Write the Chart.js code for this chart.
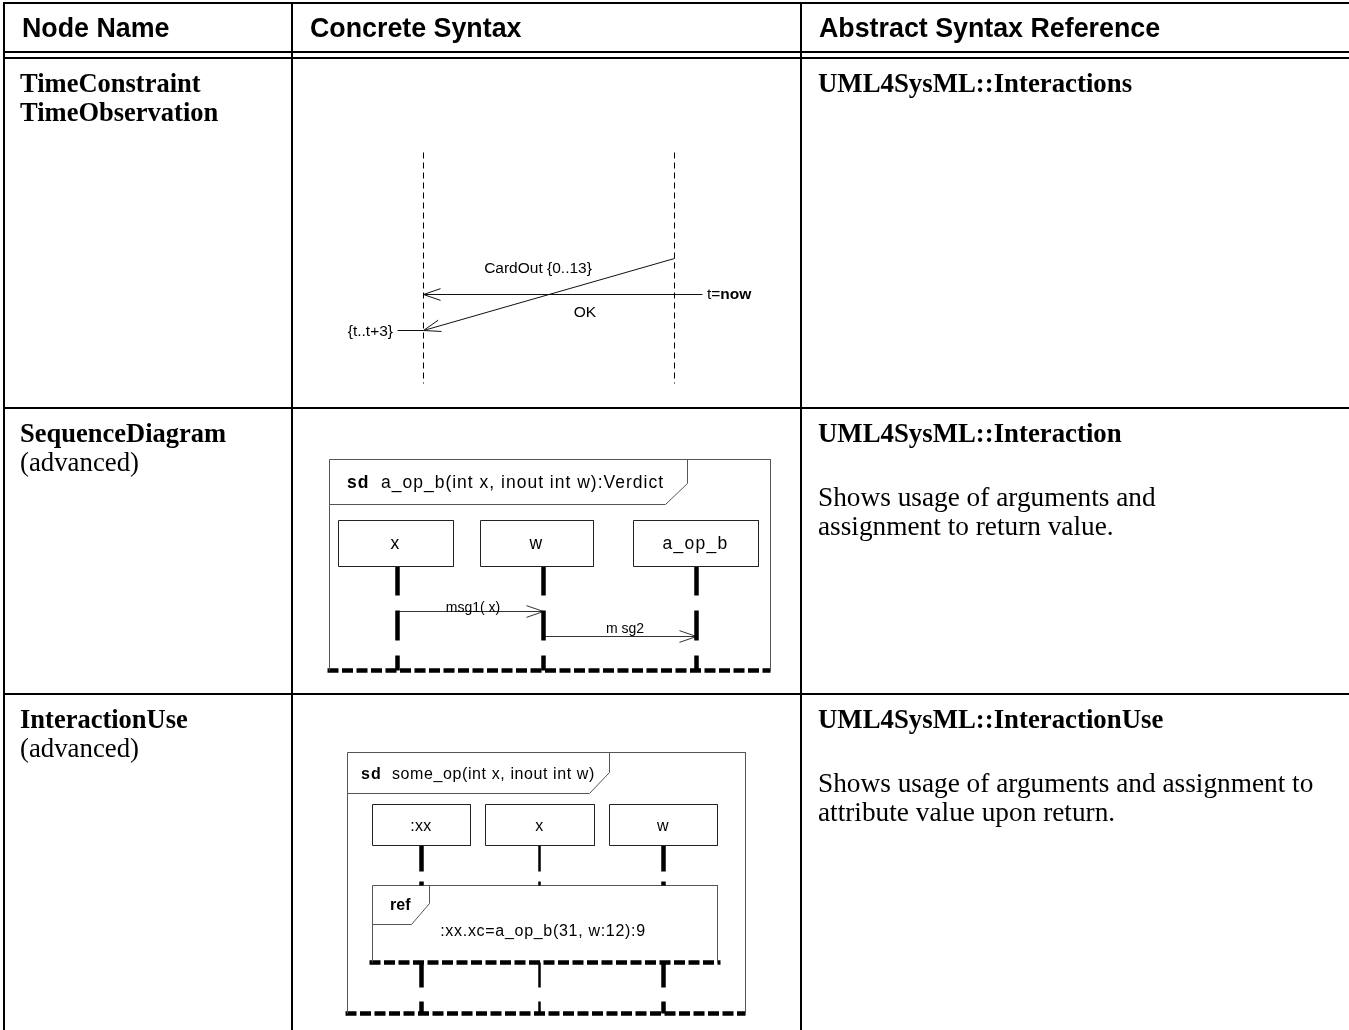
<!DOCTYPE html>
<html><head><meta charset="utf-8">
<script src="https://cdn.jsdelivr.net/npm/chart.js@4.4.1/dist/chart.umd.min.js"></script>
<style>html,body{margin:0;padding:0;background:#fff;overflow:hidden}canvas{display:block}</style>
</head><body>
<canvas id="c" width="1349" height="1030"></canvas>
<script>
// ===== Table content =====
const headerLabels = ['Node Name', 'Concrete Syntax', 'Abstract Syntax Reference'];
const nodeNames = [['TimeConstraint', 'TimeObservation'], ['SequenceDiagram'], ['InteractionUse']];
const nodeNotes = [[], ['(advanced)'], ['(advanced)']];
const syntaxRefs = ['UML4SysML::Interactions', 'UML4SysML::Interaction', 'UML4SysML::InteractionUse'];
const refNotes = [[], ['Shows usage of arguments and', 'assignment to return value.'],
                  ['Shows usage of arguments and assignment to', 'attribute value upon return.']];

// table grid (page units)
const columnEdges = [4, 292, 801];
const headerRules = [3, 52, 58];
const rowTops = [58, 408, 694];

// ===== Diagram 1: TimeConstraint / TimeObservation =====
const tcLifelineX = [423, 674];
const tcLifelineRange = [152, 383];
const tcMessages = [ { from: [702, 294], to: [423, 294] }, { from: [674, 258], to: [423, 330] } ];
const tcConstraintTick = [[397, 330], [423, 330]];
const tcLabels = [
  { text: 'CardOut {0..13}', at: [538, 273], align: 'center' },
  { text: 'OK', at: [585, 317], align: 'center' },
  { text: '{t..t+3}', at: [393, 336], align: 'right' }
];
const tcObservation = { plain: 't=', bold: 'now', at: [707, 299] };

// ===== Diagram 2: SequenceDiagram =====
const seqTitle = { bold: 'sd', text: 'a_op_b(int x, inout int w):Verdict', boldAt: [347, 488], textAt: [381, 488] };
const seqFrame = { left: 329, top: 459, right: 770, bottom: 670, tabRight: 687, tabKnee: 483, tabBottom: 504, tabFoot: 665 };
const seqLifelineNames = ['x', 'w', 'a_op_b'];
const seqLifelineX = [397, 543, 696];
const seqBoxes = [[338, 453], [480, 593], [633, 758]];
const seqBoxRange = [520, 566];
const seqLifelineSegments = [[566, 595], [610, 640], [655, 670]];
const seqMessages = [
  { label: 'msg1( x)', from: 397, to: 543, y: 611, labelAt: [473, 612] },
  { label: 'm sg2', from: 543, to: 696, y: 636, labelAt: [625, 633] }
];

// ===== Diagram 3: InteractionUse =====
const useTitle = { bold: 'sd', text: 'some_op(int x, inout int w)', boldAt: [361, 779], textAt: [392, 779] };
const useFrame = { left: 347, top: 752, right: 745, bottom: 1013, tabRight: 609, tabKnee: 772, tabBottom: 793, tabFoot: 589 };
const useLifelineNames = [':xx', 'x', 'w'];
const useLifelineX = [421, 539, 663];
const useLifelineWidths = [4.5, 2.5, 4.5];
const useBoxes = [[372, 470], [485, 594], [609, 717]];
const useBoxRange = [804, 845];
const useLifelineSegments = [[845, 871], [881, 885], [962, 987], [1001, 1013]];
const useRef = { left: 372, right: 717, top: 885, bottom: 962, tabRight: 429, tabKnee: 903, tabBottom: 924, tabFoot: 411 };
const useRefLabel = { bold: 'ref', at: [390, 910] };
const useRefText = { text: ':xx.xc=a_op_b(31, w:12):9', at: [543, 936] };

// ===== styles =====
const SANS = '"Liberation Sans", Arial, sans-serif';
const SERIF = '"Liberation Serif", "Times New Roman", serif';
const datasets = [];
function line(points, width, color, dash) {
  const off = (Math.round(width) % 2 === 1) ? 0.5 : 0;
  datasets.push({
    data: points.map(p => ({ x: p[0] + off, y: p[1] + off })),
    showLine: true, borderColor: color, borderWidth: width, borderDash: dash || [],
    pointRadius: 0, pointHoverRadius: 0, fill: false, tension: 0, clip: false,
    borderCapStyle: 'butt', borderJoinStyle: 'miter'
  });
}
function arrowHead(from, to, color) {
  const dx = from[0] - to[0], dy = from[1] - to[1];
  const L = Math.hypot(dx, dy), ux = dx / L, uy = dy / L;
  const len = 18, ang = 19 * Math.PI / 180;
  const r = a => [to[0] + len * (ux * Math.cos(a) - uy * Math.sin(a)), to[1] + len * (ux * Math.sin(a) + uy * Math.cos(a))];
  line([r(ang), to, r(-ang)], 1, color);
}
const texts = [];
function text(t, at, font, align, spacing) { texts.push({ t, x: at[0], y: at[1], font, align: align || 'left', spacing: spacing || '0px' }); }

// ---- table grid ----
const W = 1349, H = 1030;
headerRules.forEach(y => line([[columnEdges[0] - 1, y], [W, y]], 2, '#000'));
rowTops.slice(1).forEach(y => line([[columnEdges[0] - 1, y], [W, y]], 2, '#000'));
columnEdges.forEach(x => line([[x, headerRules[0] - 1], [x, H]], 2, '#000'));

// ---- table text ----
const headerFont = 'bold 26.8px ' + SANS;
headerLabels.forEach((h, i) => text(h, [columnEdges[i] + 18, 37], headerFont));
rowTops.forEach((top, r) => {
  let y = top + 34;
  nodeNames[r].forEach(n => { text(n, [20, y], 'bold 26.5px ' + SERIF); y += 29; });
  nodeNotes[r].forEach(n => { text(n, [20, y], '26.8px ' + SERIF); y += 29; });
  text(syntaxRefs[r], [columnEdges[2] + 17, top + 34], 'bold 26.8px ' + SERIF);
  refNotes[r].forEach((n, k) => text(n, [columnEdges[2] + 17, top + 98 + k * 29], '27.3px ' + SERIF));
});

// ---- diagram 1 ----
tcLifelineX.forEach(x => line([[x, tcLifelineRange[0]], [x, tcLifelineRange[1]]], 1, '#000', [6, 4]));
tcMessages.forEach(m => { line([m.from, m.to], 1, '#111'); arrowHead(m.from, m.to, '#111'); });
line(tcConstraintTick, 1, '#111');
tcLabels.forEach(l => text(l.text, l.at, '15.5px ' + SANS, l.align));

// ---- frames ----
function frame(f, titleFontSize, title, spacing) {
  line([[f.left, f.bottom], [f.left, f.top], [f.right, f.top], [f.right, f.bottom]], 1, '#555');
  line([[f.left, f.tabBottom], [f.tabFoot, f.tabBottom], [f.tabRight, f.tabKnee], [f.tabRight, f.top]], 1, '#555');
  line([[f.left - 2, f.bottom], [f.right, f.bottom]], 4.5, '#000', [11, 3.5]);
  text(title.bold, title.boldAt, 'bold ' + titleFontSize + 'px ' + SANS, 'left', '1px');
  text(title.text, title.textAt, titleFontSize + 'px ' + SANS, 'left', spacing);
}

// ---- diagram 2 ----
frame(seqFrame, 17.5, seqTitle, '1px');
seqBoxes.forEach((b, i) => {
  line([[b[0], seqBoxRange[0]], [b[1], seqBoxRange[0]], [b[1], seqBoxRange[1]], [b[0], seqBoxRange[1]], [b[0], seqBoxRange[0]]], 1, '#222');
  text(seqLifelineNames[i], [(b[0] + b[1]) / 2, (seqBoxRange[0] + seqBoxRange[1]) / 2 + 6], '17.5px ' + SANS, 'center', '1.3px');
});
seqLifelineX.forEach(x => seqLifelineSegments.forEach(s => line([[x, s[0]], [x, s[1]]], 4.5, '#000')));
seqMessages.forEach(m => {
  line([[m.from, m.y], [m.to, m.y]], 1, '#333');
  arrowHead([m.from, m.y], [m.to, m.y], '#333');
  text(m.label, m.labelAt, '14px ' + SANS, 'center');
});

// ---- diagram 3 ----
frame(useFrame, 16, useTitle, '0.6px');
useBoxes.forEach((b, i) => {
  line([[b[0], useBoxRange[0]], [b[1], useBoxRange[0]], [b[1], useBoxRange[1]], [b[0], useBoxRange[1]], [b[0], useBoxRange[0]]], 1, '#222');
  text(useLifelineNames[i], [(b[0] + b[1]) / 2, (useBoxRange[0] + useBoxRange[1]) / 2 + 6], '16px ' + SANS, 'center', '0.3px');
});
useLifelineX.forEach((x, i) => useLifelineSegments.forEach(s => line([[x, s[0]], [x, s[1]]], useLifelineWidths[i], '#000')));
line([[useRef.left, useRef.bottom], [useRef.left, useRef.top], [useRef.right, useRef.top], [useRef.right, useRef.bottom]], 1, '#555');
line([[useRef.left, useRef.tabBottom], [useRef.tabFoot, useRef.tabBottom], [useRef.tabRight, useRef.tabKnee], [useRef.tabRight, useRef.top]], 1, '#555');
line([[useRef.left - 3, useRef.bottom], [useRef.right + 3, useRef.bottom]], 4.5, '#000', [11, 3.5]);
text(useRefLabel.bold, useRefLabel.at, 'bold 16px ' + SANS, 'left', '0px');
text(useRefText.text, useRefText.at, '16px ' + SANS, 'center', '0.7px');

// ---- plugins ----
const whiteBg = { id: 'whiteBg', beforeDraw(c) { const g = c.ctx; g.save(); g.fillStyle = '#fff'; g.fillRect(0, 0, c.width, c.height); g.restore(); } };
const textPlugin = {
  id: 'texts',
  afterDatasetsDraw(chart) {
    const g = chart.ctx, sx = chart.scales.x, sy = chart.scales.y;
    g.save();
    g.fillStyle = '#000'; g.textBaseline = 'alphabetic';
    texts.forEach(t => {
      g.font = t.font; g.textAlign = t.align;
      if ('letterSpacing' in g) g.letterSpacing = t.spacing;
      g.fillText(t.t, sx.getPixelForValue(t.x), sy.getPixelForValue(t.y));
    });
    // observation label: plain + bold
    if ('letterSpacing' in g) g.letterSpacing = '0px';
    g.textAlign = 'left';
    g.font = '15.5px ' + SANS;
    const ox = sx.getPixelForValue(tcObservation.at[0]), oy = sy.getPixelForValue(tcObservation.at[1]);
    g.fillText(tcObservation.plain, ox, oy);
    const w = g.measureText(tcObservation.plain).width;
    g.font = 'bold 15.5px ' + SANS;
    g.fillText(tcObservation.bold, ox + w, oy);
    g.restore();
  }
};

new Chart(document.getElementById('c'), {
  type: 'scatter',
  data: { datasets },
  options: {
    responsive: false, animation: false, devicePixelRatio: 1, events: [],
    layout: { padding: 0 },
    plugins: { legend: { display: false }, tooltip: { enabled: false } },
    scales: {
      x: { type: 'linear', min: 0, max: W, display: false },
      y: { type: 'linear', min: 0, max: H, reverse: true, display: false }
    }
  },
  plugins: [whiteBg, textPlugin]
});
</script>
</body></html>
